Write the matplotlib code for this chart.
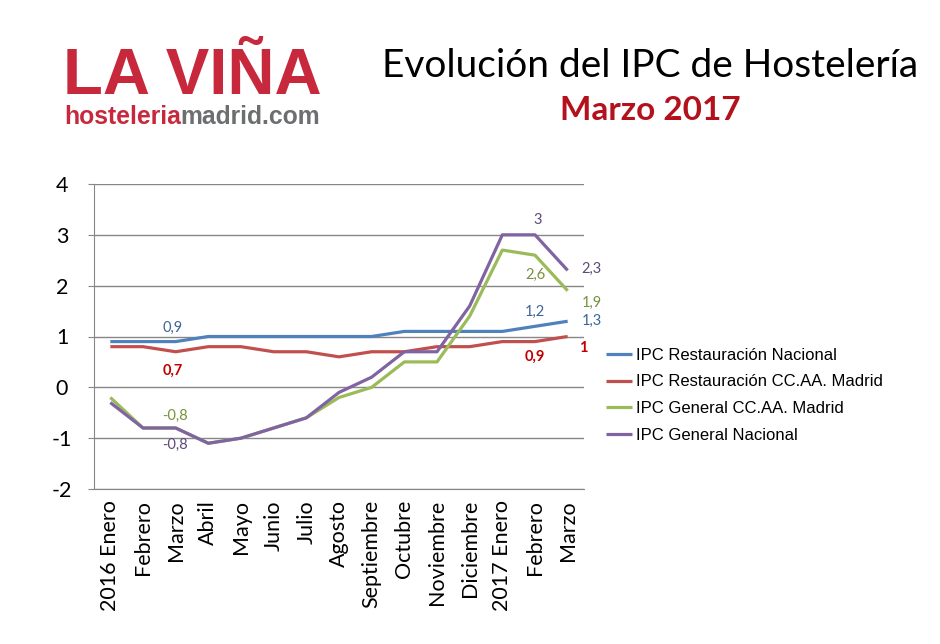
import matplotlib
matplotlib.use("Agg")
import matplotlib.pyplot as plt

categories = ["2016 Enero", "Febrero", "Marzo", "Abril", "Mayo", "Junio", "Julio",
              "Agosto", "Septiembre", "Octubre", "Noviembre", "Diciembre",
              "2017 Enero", "Febrero", "Marzo"]
rest_nacional = [0.9, 0.9, 0.9, 1.0, 1.0, 1.0, 1.0, 1.0, 1.0, 1.1, 1.1, 1.1, 1.1, 1.2, 1.3]
rest_madrid = [0.8, 0.8, 0.7, 0.8, 0.8, 0.7, 0.7, 0.6, 0.7, 0.7, 0.8, 0.8, 0.9, 0.9, 1.0]
gen_madrid = [-0.2, -0.8, -0.8, -1.1, -1.0, -0.8, -0.6, -0.2, 0.0, 0.5, 0.5, 1.4, 2.7, 2.6, 1.9]
gen_nacional = [-0.3, -0.8, -0.8, -1.1, -1.0, -0.8, -0.6, -0.1, 0.2, 0.7, 0.7, 1.6, 3.0, 3.0, 2.3]
series_names = ["IPC Restauración Nacional", "IPC Restauración CC.AA. Madrid",
                "IPC General CC.AA. Madrid", "IPC General Nacional"]
yticks = [-2, -1, 0, 1, 2, 3, 4]

colors = ["#4F81BD", "#C0504D", "#9BBB59", "#8064A2"]
label_colors = ["#3C6496", "#C00000", "#76923C", "#5F497A"]
CAL = ["Lato", "DejaVu Sans"]
ARIAL = ["Liberation Sans", "DejaVu Sans"]

fig = plt.figure(figsize=(9.4, 6.44), dpi=100)
ax = fig.add_axes([94/940, 1-489/644, 490/940, 305/644])
x = list(range(len(categories)))
all_series = [rest_nacional, rest_madrid, gen_madrid, gen_nacional]
lines = []
for s, c, n in zip(all_series, colors, series_names):
    ln, = ax.plot(x, s, color=c, lw=2.3, label=n, solid_capstyle="butt", zorder=3)
    lines.append(ln)

ax.set_xlim(-0.5, len(categories) - 0.5)
ax.set_ylim(-2, 4)
ax.set_yticks(yticks)
ax.set_yticklabels([str(t) for t in yticks], fontfamily=CAL, fontsize=15.5)
ax.set_xticks(x)
ax.set_xticklabels(categories, rotation=90, fontfamily=CAL, fontsize=15.5, va="top")
ax.grid(axis="y", color="#878787", lw=1.0, zorder=0)
for sp in ["top", "right"]:
    ax.spines[sp].set_visible(False)
ax.spines["left"].set_color("#878787")
ax.spines["bottom"].set_color("#878787")
ax.tick_params(axis="y", length=4, color="#878787", pad=19)
ax.tick_params(axis="x", length=0, pad=8)
for lbl in ax.get_yticklabels():
    lbl.set_horizontalalignment("center")

# data labels (series index, point index, text, dx px, dy px, bold)
labels = [
    (0, 2, "0,9", -3, 14, False),
    (1, 2, "0,7", -3, -19, True),
    (2, 2, "-0,8", -1, 12, False),
    (3, 2, "-0,8", -1, -17, False),
    (3, 13, "3", 3, 15, False),
    (2, 13, "2,6", 0, -20, False),
    (0, 13, "1,2", 0, 14, False),
    (1, 13, "0,9", 0, -15, True),
    (3, 14, "2,3", 24, 2, False),
    (2, 14, "1,9", 24, -12, False),
    (0, 14, "1,3", 24, 0, False),
    (1, 14, "1", 16, -11, True),
]
for si, pi, t, dx, dy, b in labels:
    ax.annotate(t, (pi, all_series[si][pi]), xytext=(dx, dy), textcoords="offset pixels",
                ha="center", va="center", color=label_colors[si], fontfamily=CAL,
                fontsize=10.5, fontweight="bold" if b else "normal", annotation_clip=False)

fig.legend(handles=lines, labels=series_names, loc="upper left",
           bbox_to_anchor=(599/940, 1-341/644), frameon=False,
           prop={"family": ARIAL, "size": 12}, handlelength=1.55,
           handletextpad=0.25, labelspacing=0.7, borderaxespad=0)

# Title
fig.text(650/940, 1-66/644, "Evolución del IPC de Hostelería", ha="center", va="center",
         fontfamily=CAL, fontsize=28, color="black")
fig.text(650/940, 1-111/644, "Marzo 2017", ha="center", va="center",
         fontfamily=CAL, fontsize=24, fontweight="bold", color="#B3121C")

# Logo
fig.text(63/940, 1-77/644, "LA VIÑA", ha="left", va="center", fontfamily=ARIAL,
         fontsize=47, fontweight="bold", color="#C8283C")
t1 = fig.text(64/940, 1-117/644, "hosteleria", ha="left", va="center", fontfamily=ARIAL,
              fontsize=17.8, fontweight="bold", color="#C8283C")
fig.canvas.draw()
bb = t1.get_window_extent()
fig.text(bb.x1/940, 1-117/644, "madrid.com", ha="left", va="center", fontfamily=ARIAL,
         fontsize=17.8, fontweight="bold", color="#6D6E70")

fig.savefig("out.png", dpi=100)
